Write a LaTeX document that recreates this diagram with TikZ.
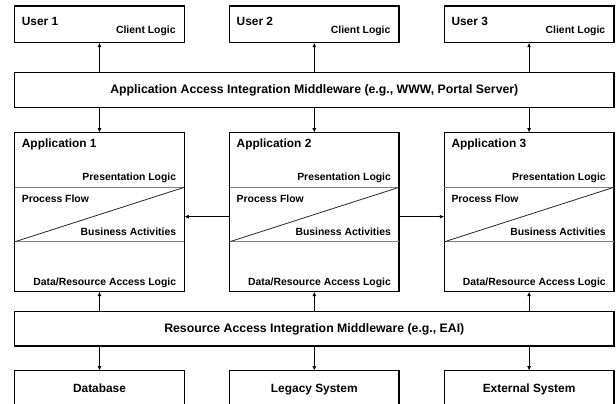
\documentclass[tikz,border=0pt]{standalone}
\usepackage{fontspec}
\setmainfont{Liberation Sans}
\usetikzlibrary{arrows.meta}
\tikzset{
  box/.style={draw=black, line width=1.5pt, minimum width=169.6pt, inner sep=0pt, outer sep=0pt},
  wide/.style={draw=black, line width=1.5pt, minimum width=599.4pt, minimum height=34.6pt, inner sep=0pt, outer sep=0pt, font=\bfseries\fontsize{12.3}{14}\selectfont},
  big/.style={font=\bfseries\fontsize{11.9}{14}\selectfont, inner sep=0pt},
  small/.style={font=\bfseries\fontsize{10.4}{12}\selectfont, inner sep=0pt},
  sep/.style={draw=gray, line width=1pt},
  diag/.style={draw=black!85, line width=0.8pt},
  conn/.style={draw=black, line width=1pt, -{Latex[length=4.5pt,width=4pt]}},
}
\begin{document}
\begin{tikzpicture}[x=1pt,y=-1pt]
\useasboundingbox (0,0) rectangle (616,404);
\clip (0,0) rectangle (616,404);
% users
\foreach \i/\cx in {1/99.5, 2/314.3, 3/529.1} {
  \node[box, minimum height=36.7pt] (u\i) at (\cx,24.35) {};
  \node[big, anchor=base west] (ut\i) at ([xshift=7pt]u\i.west |- 0,25.5) {User \i};
  \node[small, anchor=base east] (uc\i) at ([xshift=-8.5pt]u\i.east |- 0,34) {Client Logic};
}
% top middleware
\node[wide] (mw1) at (314.3,90) {Application Access Integration Middleware (e.g., WWW, Portal Server)};
% applications
\foreach \i/\cx in {1/99.5, 2/314.3, 3/529.1} {
  \node[box, minimum height=159pt] (a\i) at (\cx,212.2) {};
  \coordinate (pl\i) at (a\i.west |- 0,187.3);
  \coordinate (pr\i) at (a\i.east |- 0,187.3);
  \coordinate (bl\i) at (a\i.west |- 0,241.8);
  \coordinate (br\i) at (a\i.east |- 0,241.8);
  \draw[sep] (pl\i) -- (pr\i);
  \draw[sep] (bl\i) -- (br\i);
  \draw[diag] (bl\i) -- (pr\i);
  \node[big, anchor=base west] (at\i) at ([xshift=7pt]a\i.west |- 0,147.3) {Application \i};
  \node[small, anchor=base east] (ap\i) at ([xshift=-8pt]a\i.east |- 0,180.7) {Presentation Logic};
  \node[small, anchor=base west] (af\i) at ([xshift=7pt]a\i.west |- 0,202.7) {Process Flow};
  \node[small, anchor=base east] (ab\i) at ([xshift=-8pt]a\i.east |- 0,235.3) {Business Activities};
  \node[small, anchor=base east] (ad\i) at ([xshift=-8pt]a\i.east |- 0,285) {Data/Resource Access Logic};
}
% bottom middleware
\node[wide] (mw2) at (314.3,328.85) {Resource Access Integration Middleware (e.g., EAI)};
% resources
\node[box, minimum height=50pt] (r1) at (99.5,395.7) {};
\node[box, minimum height=50pt] (r2) at (314.3,395.7) {};
\node[box, minimum height=50pt] (r3) at (529.1,395.7) {};
\node[big, anchor=base] (rt1) at (r1.north |- 0,392.7) {Database};
\node[big, anchor=base] (rt2) at (r2.north |- 0,392.7) {Legacy System};
\node[big, anchor=base] (rt3) at (r3.north |- 0,392.7) {External System};
% connectors
\foreach \i in {1,2,3} {
  \draw[conn] (u\i.south |- mw1.north) -- (u\i.south);
  \draw[conn] (a\i.north |- mw1.south) -- (a\i.north);
  \draw[conn] (a\i.south |- mw2.north) -- (a\i.south);
  \draw[conn] (r\i.north |- mw2.south) -- (r\i.north);
}
\draw[conn] (a2.west |- 0,216.7) -- (a1.east |- 0,216.7);
\draw[conn] (a2.east |- 0,216.7) -- (a3.west |- 0,216.7);
\end{tikzpicture}
\end{document}
